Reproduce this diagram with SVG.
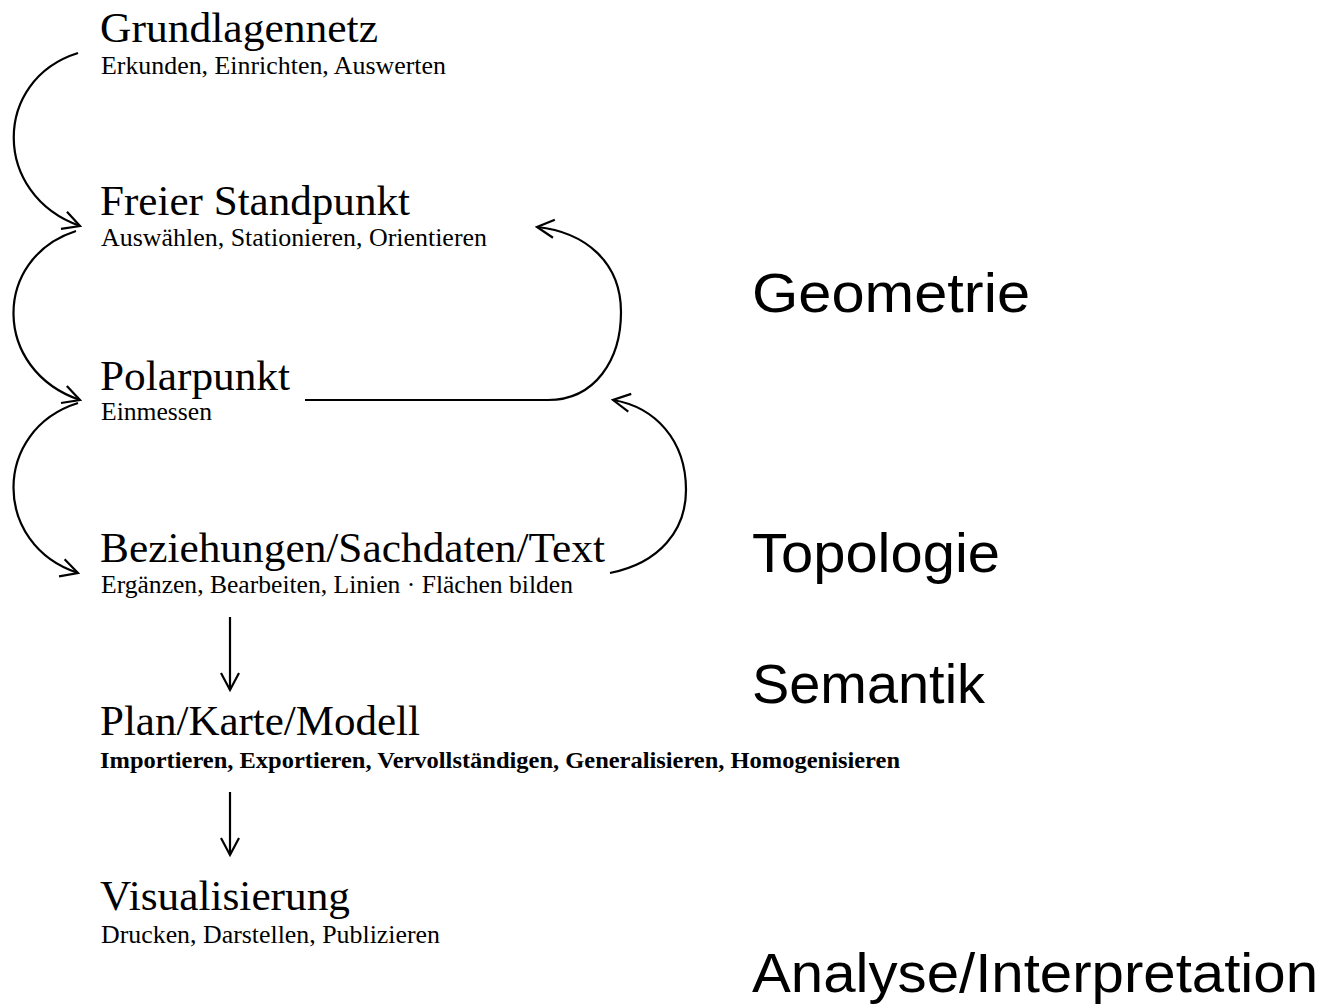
<svg xmlns="http://www.w3.org/2000/svg" width="1325" height="1005" viewBox="0 0 1325 1005">
<style>
.t{font-family:"Liberation Serif","Times New Roman",serif;font-size:43px;fill:#000}
.s{font-family:"Liberation Serif","Times New Roman",serif;font-size:25px;fill:#000}
.sb{font-family:"Liberation Serif","Times New Roman",serif;font-size:23px;font-weight:bold;fill:#000}
.c{font-family:"Liberation Sans",Arial,sans-serif;font-size:56px;fill:#000}
.e{fill:none;stroke:#000;stroke-width:2.2}
</style>
<defs>
<marker id="ah" markerUnits="userSpaceOnUse" markerWidth="30" markerHeight="30" refX="0" refY="0" viewBox="-20 -15 30 30" orient="auto" overflow="visible">
<path d="M-17,-9 L0,0 L-17,9" fill="none" stroke="#000" stroke-width="2.2"/>
</marker>
</defs>
<rect width="1325" height="1005" fill="#fff"/>
<g id="connectors">
<path class="e" d="M78,53 C-8,80 -8,195 80,226" marker-end="url(#ah)"/>
<path class="e" d="M76,231 C-8,258 -8,370 80,400" marker-end="url(#ah)"/>
<path class="e" d="M78,403 C-8,430 -8,545 78,573" marker-end="url(#ah)"/>
<path class="e" d="M305,400 L548,400 C595,400 621,360 621,312 C621,262 585,232 537,227" marker-end="url(#ah)"/>
<path class="e" d="M610,573 C660,563 686,530 686,490 C686,440 655,407 613,400" marker-end="url(#ah)"/>
<path class="e" d="M230,617 L230,690" marker-end="url(#ah)"/>
<path class="e" d="M230,792 L230,855" marker-end="url(#ah)"/>
</g>
<g id="n-grundlagennetz">
<text class="t" x="100" y="42" textLength="278" lengthAdjust="spacingAndGlyphs">Grundlagennetz</text>
<text class="s" x="101" y="74" textLength="345" lengthAdjust="spacingAndGlyphs">Erkunden, Einrichten, Auswerten</text>
</g>
<g id="n-freier-standpunkt">
<text class="t" x="100" y="215" textLength="310" lengthAdjust="spacingAndGlyphs">Freier Standpunkt</text>
<text class="s" x="101" y="246" textLength="386" lengthAdjust="spacingAndGlyphs">Auswählen, Stationieren, Orientieren</text>
</g>
<g id="n-polarpunkt">
<text class="t" x="100" y="390" textLength="190" lengthAdjust="spacingAndGlyphs">Polarpunkt</text>
<text class="s" x="101" y="420" textLength="111" lengthAdjust="spacingAndGlyphs">Einmessen</text>
</g>
<g id="n-beziehungen">
<text class="t" x="100" y="562" textLength="505" lengthAdjust="spacingAndGlyphs">Beziehungen/Sachdaten/Text</text>
<text class="s" x="101" y="593" textLength="472" lengthAdjust="spacingAndGlyphs">Ergänzen, Bearbeiten, Linien · Flächen bilden</text>
</g>
<g id="n-plan">
<text class="t" x="100" y="735" textLength="320" lengthAdjust="spacingAndGlyphs">Plan/Karte/Modell</text>
<text class="sb" x="100" y="768" textLength="800" lengthAdjust="spacingAndGlyphs">Importieren, Exportieren, Vervollständigen, Generalisieren, Homogenisieren</text>
</g>
<g id="n-visualisierung">
<text class="t" x="100" y="910" textLength="250" lengthAdjust="spacingAndGlyphs">Visualisierung</text>
<text class="s" x="101" y="943" textLength="339" lengthAdjust="spacingAndGlyphs">Drucken, Darstellen, Publizieren</text>
</g>
<g id="n-geometrie"><text class="c" x="752" y="312" textLength="278" lengthAdjust="spacingAndGlyphs">Geometrie</text></g>
<g id="n-topologie"><text class="c" x="752" y="572" textLength="248" lengthAdjust="spacingAndGlyphs">Topologie</text></g>
<g id="n-semantik"><text class="c" x="752" y="703" textLength="233" lengthAdjust="spacingAndGlyphs">Semantik</text></g>
<g id="n-analyse"><text class="c" x="752" y="992" textLength="566" lengthAdjust="spacingAndGlyphs">Analyse/Interpretation</text></g>
</svg>
